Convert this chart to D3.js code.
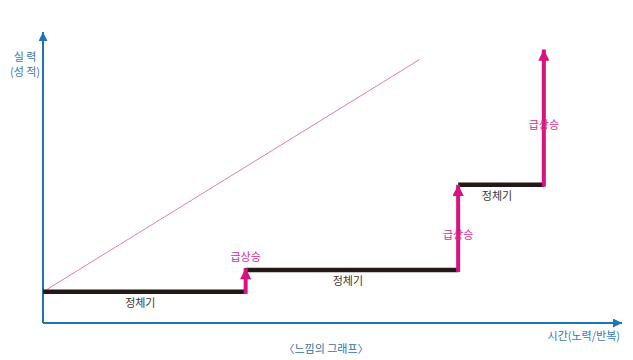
<!DOCTYPE html>
<html>
<head>
<meta charset="utf-8">
<script src="https://cdn.jsdelivr.net/npm/d3@7"></script>
<style>
  body { margin: 0; background: #fff; }
  text { font-family: "Noto Sans CJK KR", "Noto Sans", sans-serif; }
</style>
</head>
<body>
<div id="chart"></div>
<script>
// step graph data (time / skill in arbitrary units 0..100)
var stepTimes = [0, 35, 71.7, 86.5];
var stepLevels = [10.7, 18.2, 47.5, 94];
var plateauLabel = '정체기';
var riseLabel = '급상승';
var linearLine = [[0, 10.7], [65, 90.5]];

var yTitle = ['실 력', '(성 적)'];
var xTitle = '시간(노력/반복)';
var caption = '〈느낌의 그래프〉';

var svgWidth = 633;
var svgHeight = 360;

var blue = '#1d74b7';
var pink = '#d8127e';

var svg = d3.select('#chart')
    .append('svg')
    .attr('width', svgWidth)
    .attr('height', svgHeight);

var x = d3.scaleLinear().domain([0, 100]).range([43, 622]);
var y = d3.scaleLinear().domain([0, 100]).range([323, 32]);

var defs = svg.append('defs');
defs.append('marker')
    .attr('id', 'blueHead')
    .attr('viewBox', '0 0 10 10')
    .attr('refX', 10).attr('refY', 5)
    .attr('markerWidth', 7).attr('markerHeight', 4.5)
    .attr('markerUnits', 'strokeWidth')
    .attr('orient', 'auto')
    .append('path').attr('d', 'M0,0 L10,5 L0,10 Z').attr('fill', blue);
defs.append('marker')
    .attr('id', 'pinkHead')
    .attr('viewBox', '0 0 10 10')
    .attr('refX', 10).attr('refY', 5)
    .attr('markerWidth', 3.8).attr('markerHeight', 2.8)
    .attr('markerUnits', 'strokeWidth')
    .attr('orient', 'auto')
    .append('path').attr('d', 'M0,0 L10,5 L0,10 Z').attr('fill', pink);

// axes
svg.append('line')
    .attr('x1', x(0)).attr('y1', y(0))
    .attr('x2', x(0)).attr('y2', y(100))
    .attr('stroke', blue).attr('stroke-width', 2)
    .attr('marker-end', 'url(#blueHead)');
svg.append('line')
    .attr('x1', x(0)).attr('y1', y(0))
    .attr('x2', x(100)).attr('y2', y(0))
    .attr('stroke', blue).attr('stroke-width', 2)
    .attr('marker-end', 'url(#blueHead)');

// thin linear expectation line
svg.append('line')
    .attr('x1', x(linearLine[0][0])).attr('y1', y(linearLine[0][1]))
    .attr('x2', x(linearLine[1][0])).attr('y2', y(linearLine[1][1]))
    .attr('stroke', '#d65aa8').attr('stroke-width', 0.8);

// plateaus
var plateaus = stepTimes.slice(0, 3).map(function (t, i) {
    return { x0: t, x1: stepTimes[i + 1], level: stepLevels[i] };
});
svg.selectAll('.plateau')
    .data(plateaus)
    .enter().append('line')
    .attr('class', 'plateau')
    .attr('x1', d => x(d.x0)).attr('x2', d => x(d.x1))
    .attr('y1', d => y(d.level)).attr('y2', d => y(d.level))
    .attr('stroke', '#231815').attr('stroke-width', 4.5);

svg.selectAll('.plateauLabel')
    .data(plateaus)
    .enter().append('text')
    .attr('x', d => (x(d.x0) + x(d.x1)) / 2 - 4)
    .attr('y', d => y(d.level) + 15)
    .attr('text-anchor', 'middle')
    .attr('font-size', 11)
    .attr('fill', '#3a3433')
    .text(plateauLabel);

// rises
var rises = stepTimes.slice(1).map(function (t, i) {
    return { t: t, from: stepLevels[i], to: stepLevels[i + 1], first: i === 0 };
});
svg.selectAll('.rise')
    .data(rises)
    .enter().append('line')
    .attr('class', 'rise')
    .attr('x1', d => x(d.t)).attr('x2', d => x(d.t))
    .attr('y1', d => y(d.from) + 2)
    .attr('y2', d => y(d.to) - (d.first ? 2 : 0))
    .attr('stroke', pink).attr('stroke-width', 4)
    .attr('marker-end', 'url(#pinkHead)');

svg.selectAll('.riseLabel')
    .data(rises)
    .enter().append('text')
    .attr('x', d => x(d.t))
    .attr('y', d => d.first ? y(d.to) - 9 : (y(d.from) + y(d.to)) / 2 + 12)
    .attr('text-anchor', 'middle')
    .attr('font-size', 11)
    .attr('fill', '#d9308f')
    .text(riseLabel);

// axis titles
svg.selectAll('.yTitle')
    .data(yTitle)
    .enter().append('text')
    .attr('x', 25)
    .attr('y', (d, i) => 61 + i * 15)
    .attr('text-anchor', 'middle')
    .attr('font-size', 11)
    .attr('fill', '#3b77b3')
    .text(d => d);

svg.append('text')
    .attr('x', 620).attr('y', 340)
    .attr('text-anchor', 'end')
    .attr('font-size', 11)
    .attr('fill', '#3b77b3')
    .text(xTitle);

svg.append('text')
    .attr('x', 326).attr('y', 353)
    .attr('text-anchor', 'middle')
    .attr('font-size', 11)
    .attr('fill', '#2d6fb0')
    .text(caption);
</script>
</body>
</html>
